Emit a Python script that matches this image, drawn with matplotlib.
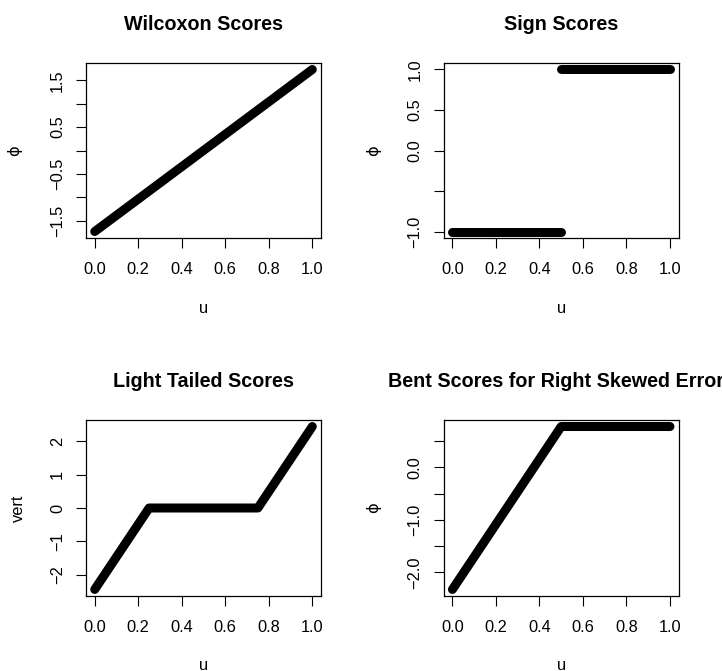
import matplotlib
matplotlib.use("Agg")
import matplotlib.pyplot as plt

plt.rcParams['font.family'] = ['Liberation Sans', 'DejaVu Sans']

# Score functions, given at their knots on u in [0, 1]
wilcoxon_u = [0.0, 1.0]
wilcoxon_phi = [-1.732, 1.732]

sign_low_u = [0.0, 0.5]
sign_low_phi = [-1.0, -1.0]
sign_high_u = [0.5, 1.0]
sign_high_phi = [1.0, 1.0]

light_u = [0.0, 0.25, 0.75, 1.0]
light_phi = [-2.449, 0.0, 0.0, 2.449]

bent_u = [0.0, 0.5, 1.0]
bent_phi = [-2.324, 0.775, 0.775]

titles = ["Wilcoxon Scores", "Sign Scores", "Light Tailed Scores",
          "Bent Scores for Right Skewed Errors"]
ylabels = ["\u03d5", "\u03d5", "vert", "\u03d5"]

x_ticks = [0.0, 0.2, 0.4, 0.6, 0.8, 1.0]
x_tick_labels = ["0.0", "0.2", "0.4", "0.6", "0.8", "1.0"]

M = "\u2212"
wil_yticks = [-1.5, -1.0, -0.5, 0.0, 0.5, 1.0, 1.5]
wil_ytick_labels = [M + "1.5", "", M + "0.5", "", "0.5", "", "1.5"]
sign_yticks = [-1.0, -0.5, 0.0, 0.5, 1.0]
sign_ytick_labels = [M + "1.0", "", "0.0", "0.5", "1.0"]
light_yticks = [-2, -1, 0, 1, 2]
light_ytick_labels = [M + "2", M + "1", "0", "1", "2"]
bent_yticks = [-2.0, -1.5, -1.0, -0.5, 0.0, 0.5]
bent_ytick_labels = [M + "2.0", "", M + "1.0", "", "0.0", ""]

W, H = 722, 671
DPI = 100
fig = plt.figure(figsize=(W / DPI, H / DPI), dpi=DPI)

PX = 72.0 / DPI  # points per pixel


def rect(x0, y0, x1, y1):
    return [x0 / W, 1 - y1 / H, (x1 - x0) / W, (y1 - y0) / H]


def ext(vals):
    lo, hi = min(vals), max(vals)
    r = hi - lo
    return lo - 0.04 * r, hi + 0.04 * r


panels = [
    (rect(86, 63, 321, 238), [(wilcoxon_u, wilcoxon_phi)], wil_yticks, wil_ytick_labels, 71),
    (rect(443.7, 63, 678.7, 238), [(sign_low_u, sign_low_phi), (sign_high_u, sign_high_phi)],
     sign_yticks, sign_ytick_labels, 70),
    (rect(86, 420, 321, 596), [(light_u, light_phi)], light_yticks, light_ytick_labels, 67.5),
    (rect(443.7, 420, 678.7, 596), [(bent_u, bent_phi)], bent_yticks, bent_ytick_labels, 70),
]

LW = 9 * PX
for i, (r, segs, yt, ytl, ylab_off) in enumerate(panels):
    ax = fig.add_axes(r)
    all_y = []
    for u, phi in segs:
        ax.plot(u, phi, color="black", lw=LW, solid_capstyle="round",
                solid_joinstyle="round")
        all_y += list(phi)
    ax.set_xlim(-0.04, 1.04)
    ax.set_ylim(*ext(all_y))
    ax.set_xticks(x_ticks)
    ax.set_xticklabels(x_tick_labels)
    ax.set_yticks(yt)
    ax.set_yticklabels(ytl)
    ax.tick_params(direction="out", length=10 * PX, width=0.8, color="black",
                   labelsize=11.8, labelcolor="black")
    ax.tick_params(axis="x", pad=10)
    ax.tick_params(axis="y", pad=8)
    for lab in ax.get_yticklabels():
        lab.set_rotation(90)
        lab.set_va("center")
    for s in ax.spines.values():
        s.set_linewidth(0.9)
        s.set_color("black")
    ax.set_title(titles[i], fontsize=14.2, fontweight="bold", pad=24)
    ax.annotate("u", xy=(0.5, 0), xycoords="axes fraction",
                xytext=(0, -70 * PX), textcoords="offset points",
                ha="center", va="center", fontsize=11.8)
    ax.annotate(ylabels[i], xy=(0, 0.5), xycoords="axes fraction",
                xytext=(-ylab_off * PX, 0), textcoords="offset points",
                ha="center", va="center", rotation=90, fontsize=11.8,
                family=["DejaVu Sans"] if ylabels[i] != "vert" else ["Liberation Sans"])

fig.savefig("out.png", dpi=DPI)
